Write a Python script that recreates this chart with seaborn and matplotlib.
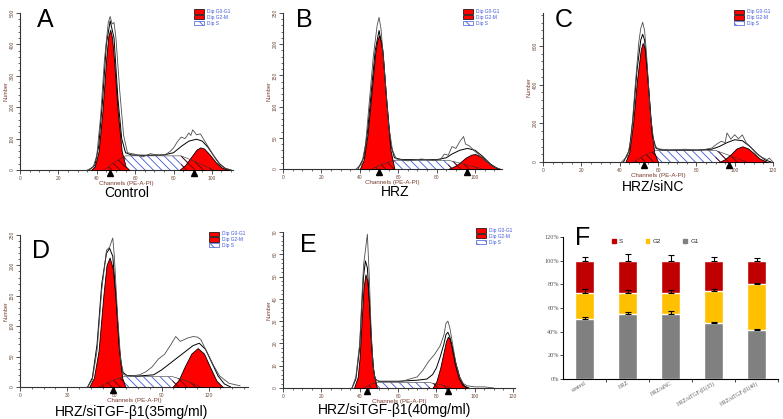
import numpy as np
import matplotlib
matplotlib.use("Agg")
import matplotlib.pyplot as plt
import matplotlib.transforms as mtransforms
from matplotlib.patches import Patch
from matplotlib.ticker import MultipleLocator, AutoMinorLocator, FuncFormatter
import seaborn as sns

sns.set_style("white")
plt.rcParams['font.family'] = ['Liberation Sans', 'DejaVu Sans']
plt.rcParams['hatch.linewidth'] = 0.6

# ---- panel A: Control ----
a_g1_x = [37, 39, 41, 43, 45, 46, 47, 48, 49, 51, 53, 55, 57]
a_g1_y = [0, 12, 60, 190, 360, 425, 447, 420, 350, 180, 60, 12, 0]
a_g2_x = [83, 86, 89, 92, 94, 96, 99, 102, 105, 109]
a_g2_y = [0, 15, 40, 65, 72, 68, 48, 25, 8, 0]
a_s_x = [44, 50, 55, 84, 92, 101]
a_s_y = [0, 28, 45, 45, 25, 0]
a_fit_x = [36, 39, 41, 43, 45, 47, 49, 51, 53, 55, 58, 65, 75, 80, 84, 88, 92, 95, 98, 101, 104, 107, 110]
a_fit_y = [0, 15, 75, 220, 400, 475, 420, 230, 100, 55, 48, 47, 48, 55, 75, 92, 98, 92, 72, 45, 20, 5, 0]
a_raw_x = [35, 38, 40, 42, 44, 46, 47, 48, 49, 50, 52, 54, 56, 60, 64, 68, 72, 76, 78, 80, 82, 84, 86,
           88, 89, 90, 92, 94, 96, 98, 100, 102, 104, 106, 108, 110]
a_raw_y = [0, 8, 45, 170, 350, 470, 489, 465, 470, 420, 250, 110, 55, 50, 42, 52, 47, 50, 58, 70, 90, 105, 100,
           118, 110, 128, 112, 115, 95, 75, 55, 35, 18, 8, 3, 0]
a_tri = [47, 90.5]

# ---- panel B: HRZ ----
b_g1_x = [40, 42, 44, 46, 48, 49, 50, 51, 52, 54, 56, 58]
b_g1_y = [0, 15, 55, 120, 185, 205, 214, 205, 180, 100, 30, 0]
b_g2_x = [86, 89, 92, 95, 98, 100, 103, 106, 109, 113]
b_g2_y = [0, 4, 10, 18, 23, 24, 20, 12, 5, 0]
b_s_x = [46, 52, 58, 86, 94, 104]
b_s_y = [0, 8, 14, 14, 8, 0]
b_fit_x = [39, 42, 44, 46, 48, 50, 52, 54, 56, 58, 62, 70, 80, 85, 88, 92, 96, 100, 104, 108, 112]
b_fit_y = [0, 18, 60, 125, 190, 222, 190, 110, 40, 18, 15, 15, 15, 18, 24, 30, 33, 30, 20, 8, 0]
b_raw_x = [38, 41, 43, 45, 47, 49, 50, 51, 53, 55, 57, 59, 65, 72, 78, 82, 84, 86, 88, 90, 92, 94, 95,
           97, 100, 103, 107, 110, 113]
b_raw_y = [0, 8, 40, 110, 180, 230, 243, 225, 150, 70, 30, 16, 13, 16, 14, 15, 24, 22, 36, 33, 44, 52, 40,
           37, 28, 20, 9, 3, 0]
b_tri = [50, 96]

# ---- panel C: HRZ/siNC ----
c_g1_x = [43, 45, 47, 49, 51, 52, 53, 54, 56, 58, 60]
c_g1_y = [0, 50, 200, 420, 580, 615, 590, 500, 230, 50, 0]
c_g2_x = [92, 95, 98, 101, 104, 107, 110, 113, 117]
c_g2_y = [0, 15, 40, 70, 81, 70, 45, 18, 0]
c_s_x = [47, 53, 59, 90, 97, 106]
c_s_y = [0, 35, 60, 60, 35, 0]
c_fit_x = [42, 45, 47, 49, 51, 52, 53, 55, 57, 59, 62, 70, 80, 88, 92, 96, 100, 104, 108, 112, 116, 119]
c_fit_y = [0, 60, 230, 470, 630, 660, 630, 400, 140, 70, 62, 62, 62, 66, 80, 100, 115, 110, 80, 40, 10, 0]
c_raw_x = [41, 44, 46, 48, 50, 51, 52, 53, 54, 56, 58, 60, 66, 74, 82, 88, 91, 93, 95, 96, 98, 100,
           102, 104, 106, 108, 111, 114, 117, 118, 120]
c_raw_y = [0, 30, 120, 380, 620, 690, 722, 680, 560, 250, 90, 68, 62, 66, 60, 72, 95, 107, 100, 150, 118, 141,
           120, 140, 100, 80, 46, 25, 12, 20, 0]
c_tri = [52.7, 97]

# ---- panel D: HRZ/siTGF-b1 35 ----
d_g1_x = [44, 47, 50, 53, 55, 57, 59, 61, 63, 65, 67]
d_g1_y = [0, 15, 60, 150, 200, 213, 195, 140, 60, 15, 0]
d_g2_x = [97, 101, 105, 109, 113, 117, 121, 125, 129]
d_g2_y = [0, 12, 35, 55, 64, 55, 32, 10, 0]
d_s_x = [50, 58, 66, 97, 106, 115]
d_s_y = [0, 10, 17, 17, 10, 0]
d_fit_x = [43, 46, 49, 52, 55, 57, 59, 61, 63, 65, 68, 75, 85, 90, 95, 100, 105, 110, 114, 118, 122, 126, 130, 134]
d_fit_y = [0, 15, 70, 170, 220, 228, 215, 150, 70, 25, 19, 18, 20, 28, 38, 48, 58, 68, 72, 62, 40, 18, 5, 0]
d_raw_x = [43, 46, 49, 52, 55, 57, 58, 59, 60, 62, 64, 66, 70, 76, 80, 84, 88, 92, 96, 99, 102, 106, 110,
           113, 115, 118, 123, 127, 133, 140]
d_raw_y = [0, 12, 60, 160, 225, 230, 238, 245, 215, 120, 45, 20, 18, 20, 25, 33, 46, 54, 70, 83, 75, 80, 83,
           82, 78, 62, 36, 18, 6, 2]
d_tri = [59]

# ---- panel E: HRZ/siTGF-b1 40 ----
e_g1_x = [37, 39, 40, 41, 42, 43, 44, 45, 46, 47, 49]
e_g1_y = [0, 5, 14, 30, 45, 51, 48, 36, 20, 8, 0]
e_g2_x = [78, 80, 82, 84, 85, 86, 87, 88, 90, 92, 94, 96]
e_g2_y = [0, 3, 9, 17, 21, 23, 22, 19, 11, 5, 1.5, 0]
e_s_x = [42, 46, 49, 76, 82, 88]
e_s_y = [0, 1.8, 2.5, 2.5, 1.5, 0]
e_fit_x = [36, 38, 40, 41, 42, 43, 44, 45, 46, 47, 48, 50, 60, 70, 75, 78, 80, 82, 84, 85, 86, 87, 88,
           90, 92, 94, 97]
e_fit_y = [0, 4, 18, 35, 50, 57, 54, 40, 22, 10, 4, 3, 3, 3.5, 4, 6, 9, 14, 20, 24, 25, 23, 19,
           10, 4, 1, 0]
e_raw_x = [36, 38, 40, 41, 42, 43, 44, 45, 46, 47, 48, 50, 56, 62, 66, 70, 73, 76, 79, 82, 84, 85, 86, 87,
           88, 90, 92, 94, 96, 100, 105, 110]
e_raw_y = [0, 5, 20, 38, 55, 62, 69, 50, 25, 10, 4, 3, 3, 3, 4, 5, 8, 12, 15, 19, 24, 29, 30, 27,
           22, 12, 5, 2, 1, 0.5, 0.5, 0]
e_tri = [44, 86]

captions = ["Control", "HRZ", "HRZ/siNC", "HRZ/siTGF-β1(35mg/ml)", "HRZ/siTGF-β1(40mg/ml)"]
legend_labels = ["Dip G0-G1", "Dip G2-M", "Dip S"]

# ---- panel F: cell cycle distribution ----
groups = ["control", "HRZ", "HRZ/siNC", "HRZ/siTGF-β1(35)", "HRZ/siTGF-β1(40)"]
pct_g1 = [51, 55, 55, 47, 41]
pct_g2 = [22, 18, 18, 27.5, 39]
pct_s = [27, 27, 27, 25.5, 20]
err_g1 = [1.5, 1.5, 2.5, 1.2, 1.0]
err_g2 = [3.0, 2.5, 2.0, 1.2, 1.2]
err_s = [3.0, 6.0, 4.5, 3.0, 2.5]

W, H = 783, 419
RED = '#ff0000'
HATCH = '\\\\\\\\'
BROWN = '#7a3b2e'


def px_rect(l, r, b, t):
    return [l / W, 1 - b / H, (r - l) / W, (b - t) / H]


fig = plt.figure(figsize=(W / 100, H / 100), dpi=100)

panels = [
    dict(rect=px_rect(20, 233, 170, 13), xmax=111, ymax=500, xstep=20, ystep=100,
         g1=(a_g1_x, a_g1_y), g2=(a_g2_x, a_g2_y), s=(a_s_x, a_s_y), fit=(a_fit_x, a_fit_y),
         raw=(a_raw_x, a_raw_y), tri=a_tri),
    dict(rect=px_rect(283, 502, 169, 13), xmax=114, ymax=250, xstep=20, ystep=50,
         g1=(b_g1_x, b_g1_y), g2=(b_g2_x, b_g2_y), s=(b_s_x, b_s_y), fit=(b_fit_x, b_fit_y),
         raw=(b_raw_x, b_raw_y), tri=b_tri),
    dict(rect=px_rect(543, 773, 162, 13), xmax=120, ymax=770, xstep=20, ystep=200,
         g1=(c_g1_x, c_g1_y), g2=(c_g2_x, c_g2_y), s=(c_s_x, c_s_y), fit=(c_fit_x, c_fit_y),
         raw=(c_raw_x, c_raw_y), tri=c_tri),
    dict(rect=px_rect(20, 248, 387, 235), xmax=145, ymax=250, xstep=30, ystep=50,
         g1=(d_g1_x, d_g1_y), g2=(d_g2_x, d_g2_y), s=(d_s_x, d_s_y), fit=(d_fit_x, d_fit_y),
         raw=(d_raw_x, d_raw_y), tri=d_tri),
    dict(rect=px_rect(283, 515, 388, 232), xmax=121, ymax=70, xstep=20, ystep=10,
         g1=(e_g1_x, e_g1_y), g2=(e_g2_x, e_g2_y), s=(e_s_x, e_s_y), fit=(e_fit_x, e_fit_y),
         raw=(e_raw_x, e_raw_y), tri=e_tri),
]

for p in panels:
    ax = fig.add_axes(p['rect'])
    fx, fy = p['fit']
    ax.fill_between(fx, fy, color='white', zorder=1)
    sx, sy = p['s']
    # S phase, blue hatch on white
    ax.fill_between(sx[1:5], sy[1:5], facecolor='white', edgecolor='#3f57d8', hatch=HATCH, lw=0, zorder=2)
    for key in ['g1', 'g2']:
        gx, gy = p[key]
        ax.fill_between(gx, gy, facecolor=RED, edgecolor='black', lw=0.6, zorder=3)
    # S ramps under the peaks, dark hatch
    ax.fill_between(sx[:3], sy[:3], facecolor='none', edgecolor='#5a0000', hatch=HATCH, lw=0, zorder=4)
    ax.fill_between(sx[3:], sy[3:], facecolor='none', edgecolor='#5a0000', hatch=HATCH, lw=0, zorder=4)
    ax.plot(sx, sy, color='#333333', lw=0.4, zorder=4)
    sns.lineplot(x=fx, y=fy, ax=ax, color='black', lw=0.7, zorder=5, sort=False)
    rx, ry = p['raw']
    sns.lineplot(x=rx, y=ry, ax=ax, color='#4d4d4d', lw=0.6, zorder=5, sort=False)

    trans = mtransforms.offset_copy(ax.transData, fig=fig, y=-3, units='dots')
    ax.plot(p['tri'], [0] * len(p['tri']), ls='none', marker='^', ms=4.5, color='black',
            transform=trans, clip_on=False, zorder=6)

    ax.set_xlim(0, p['xmax'])
    ax.set_ylim(0, p['ymax'])
    sns.despine(ax=ax)
    for sp in ['left', 'bottom']:
        ax.spines[sp].set_linewidth(0.8)
        ax.spines[sp].set_color('#333333')
    ax.xaxis.set_major_locator(MultipleLocator(p['xstep']))
    ax.xaxis.set_minor_locator(AutoMinorLocator(4))
    ax.yaxis.set_major_locator(MultipleLocator(p['ystep']))
    ax.yaxis.set_minor_locator(AutoMinorLocator(5))
    ax.tick_params(which='major', direction='out', length=3, width=0.6, labelsize=3.5,
                   colors='#333333', labelcolor='#6b4a3a', pad=1, left=True, bottom=True)
    ax.tick_params(which='minor', direction='out', length=1.5, width=0.5, color='#333333',
                   left=True, bottom=True)
    for lab in ax.get_yticklabels():
        lab.set_rotation(90)
        lab.set_va('center')
    ax.set_ylabel('Number', fontsize=4, color=BROWN, labelpad=1)
    ax.set_xlabel('Channels (PE-A-PI)', fontsize=4.5, color=BROWN, labelpad=0.5)

    handles = [Patch(facecolor=RED, edgecolor='black', lw=0.5),
               Patch(facecolor=RED, edgecolor='black', lw=0.5),
               Patch(facecolor='white', edgecolor='#3f57d8', hatch='\\\\\\', lw=0.5)]
    leg = ax.legend(handles, legend_labels, loc='upper right', bbox_to_anchor=(1.0, 1.04),
                    frameon=False, fontsize=3.5, handlelength=2.2, handleheight=1.0,
                    labelspacing=0.15, handletextpad=0.6, borderpad=0)
    for t in leg.get_texts():
        t.set_color('#3f57d8')

# panel letters and captions
letters = [("A", 37, 27), ("B", 296, 27), ("C", 555, 27), ("D", 32, 258), ("E", 300, 252), ("F", 575, 245)]
for s, x, y in letters:
    fig.text(x / W, 1 - y / H, s, fontsize=18, va='baseline', ha='left', color='black')

cap_pos = [(127, 193), (395, 192), (653, 187), (132, 412), (395, 410)]
for s, (x, y) in zip(captions, cap_pos):
    fig.text(x / W, 1 - y / H, s, fontsize=10, va='center', ha='center', color='black')

# ---- F stacked bars ----
axf = fig.add_axes(px_rect(563, 778, 379, 237))
pos = np.arange(len(groups))
mid = [a + b for a, b in zip(pct_g1, pct_g2)]
total = [a + b for a, b in zip(mid, pct_s)]
sns.barplot(x=groups, y=total, color='#c00000', saturation=1, width=0.42, errorbar=None, ax=axf)
sns.barplot(x=groups, y=mid, color='#ffc000', saturation=1, width=0.42, errorbar=None, ax=axf)
sns.barplot(x=groups, y=pct_g1, color='#808080', saturation=1, width=0.42, errorbar=None, ax=axf)
zeros = [0] * len(groups)
for top, err in [(total, err_s), (mid, err_g2), (pct_g1, err_g1)]:
    axf.errorbar(pos, top, yerr=[zeros, err], fmt='none', ecolor='black', elinewidth=0.8,
                 capsize=2, capthick=0.8, zorder=5)
axf.set_ylim(0, 120)
axf.set_xlim(-0.5, len(groups) - 0.5)
axf.yaxis.set_major_locator(MultipleLocator(20))
axf.yaxis.set_major_formatter(FuncFormatter(lambda v, _: f"{v:.0f}%"))
sns.despine(ax=axf)
for sp in ['left', 'bottom']:
    axf.spines[sp].set_linewidth(0.8)
    axf.spines[sp].set_color('black')
axf.set_xticks(pos + 0.5, minor=True)
axf.tick_params(axis='x', which='major', length=0, pad=1)
axf.tick_params(axis='x', which='minor', length=2, width=0.6, direction='out', bottom=True)
axf.tick_params(axis='y', which='major', length=2, width=0.6, direction='out', left=True,
                labelsize=4.5, labelcolor='#555555', pad=1)
for lab in axf.get_yticklabels():
    lab.set_family(['Liberation Serif', 'DejaVu Serif'])
axf.set_xticks(pos)
axf.set_xticklabels(groups, rotation=30, ha='right', rotation_mode='anchor', fontsize=4,
                    color='#555555', family=['Liberation Serif', 'DejaVu Serif'])
axf.set_xlabel('')
axf.set_ylabel('')
fh = [Patch(color='#c00000'), Patch(color='#ffc000'), Patch(color='#808080')]
axf.legend(fh, ['S', 'G2', 'G1'], ncol=3, loc='lower center', bbox_to_anchor=(0.43, 0.93),
           frameon=False, fontsize=4.5, handlelength=0.6, handleheight=0.6, columnspacing=3.6,
           handletextpad=0.5, borderpad=0)

fig.savefig('out.png', dpi=100)
